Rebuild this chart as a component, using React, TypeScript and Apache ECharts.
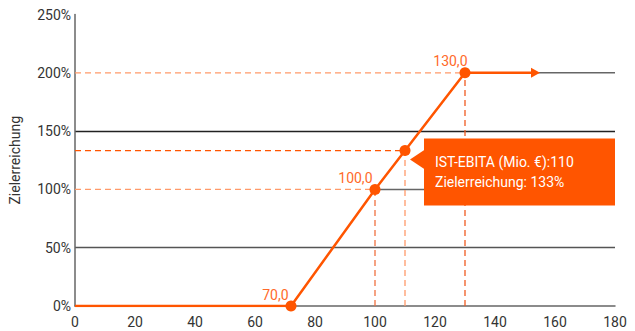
import React, { useEffect, useRef } from "react";
import * as echarts from "echarts";

const xTicks = [0, 20, 40, 60, 80, 100, 120, 140, 160, 180];
const yTicks = [0, 50, 100, 150, 200, 250];
// curve points (IST-EBITA in Mio. €, Zielerreichung in %)
const curveX = [0, 72, 100, 130, 153.5];
const curveY = [0, 0, 100, 200, 200];
// labelled corner points
const cornerX = [72, 100, 130];
const cornerY = [0, 100, 200];
const cornerLabels = ["70,0", "100,0", "130,0"];
// actual value
const actualX = 110;
const actualY = 133.3;

const ORANGE = "#FF5500";
const LIGHT = "#FF9A6A";
const GRAY = "#666666";

export default function App() {
  const ref = useRef<HTMLDivElement>(null);
  useEffect(() => {
    const chart = echarts.init(ref.current!, null, { renderer: "svg" });
    const font = "Roboto, 'Liberation Sans', sans-serif";

    const dashed = (pts: number[][], color: string) => ({
      type: "line",
      data: pts,
      symbol: "none",
      silent: true,
      z: 3,
      lineStyle: { color, width: 1.3, type: [6, 4] },
    });
    const solid = (pts: number[][], color: string) => ({
      type: "line",
      data: pts,
      symbol: "none",
      silent: true,
      z: 2,
      lineStyle: { color, width: 1.5 },
    });

    const mainData = curveX.map((x, i) => {
      const v = [x, curveY[i]];
      if (i === curveX.length - 1) {
        return { value: v, symbol: "triangle", symbolRotate: -90, symbolSize: [10, 9] };
      }
      const ci = cornerX.indexOf(x);
      if (ci >= 0 && cornerY[ci] === curveY[i]) {
        const isLast = ci === cornerX.length - 1;
        return {
          value: v,
          symbol: "circle",
          symbolSize: 11,
          label: {
            show: true,
            position: "left",
            distance: 0,
            offset: isLast ? [8, -12] : [3, -11],
            formatter: cornerLabels[ci],
            color: "#FF6A2A",
            fontSize: 14,
            fontFamily: font,
          },
        };
      }
      return { value: v, symbol: "none" };
    });

    const xMax = xTicks[xTicks.length - 1];
    const xMin = xTicks[0];

    chart.setOption({
      animation: false,
      grid: { left: 75, right: 20, top: 14.5, bottom: 25, containLabel: false },
      xAxis: {
        type: "value",
        min: xMin,
        max: xMax,
        interval: 20,
        axisLine: { show: true, lineStyle: { color: GRAY, width: 1.5 } },
        axisTick: { show: false },
        splitLine: { show: false },
        axisLabel: { color: "#333", fontSize: 14, fontFamily: font, margin: 9 },
      },
      yAxis: {
        type: "value",
        min: yTicks[0],
        max: yTicks[yTicks.length - 1],
        interval: 50,
        name: "Zielerreichung",
        nameLocation: "middle",
        nameGap: 53,
        nameTextStyle: { color: "#333", fontSize: 14, fontFamily: font },
        axisLine: { show: true, lineStyle: { color: GRAY, width: 1.5 } },
        axisTick: { show: false },
        splitLine: {
          show: true,
          lineStyle: {
            color: ["transparent", "#555", "transparent", "#222", "transparent", "transparent"],
            width: 1.3,
          },
        },
        axisLabel: {
          color: "#333",
          fontSize: 14,
          fontFamily: font,
          margin: 4,
          formatter: "{value}%",
        },
      },
      series: [
        solid([[cornerX[1], cornerY[1]], [xMax, cornerY[1]]], GRAY),
        solid([[curveX[4], curveY[4]], [xMax, curveY[4]]], GRAY),
        dashed([[xMin, cornerY[2]], [cornerX[2], cornerY[2]]], LIGHT),
        dashed([[xMin, cornerY[1]], [cornerX[1], cornerY[1]]], LIGHT),
        dashed([[xMin, actualY], [actualX, actualY]], ORANGE),
        dashed([[cornerX[1], 0], [cornerX[1], cornerY[1]]], "#F07040"),
        dashed([[actualX, 0], [actualX, actualY]], LIGHT),
        dashed([[cornerX[2], 0], [cornerX[2], cornerY[2]]], "#F05A20"),
        {
          type: "line",
          data: mainData,
          z: 5,
          silent: true,
          itemStyle: { color: ORANGE },
          lineStyle: { color: ORANGE, width: 2.5 },
        },
        {
          type: "scatter",
          z: 6,
          silent: true,
          data: [[actualX, actualY]],
          symbol: "circle",
          symbolSize: 11,
          itemStyle: { color: ORANGE, opacity: 1 },
        },
        {
          type: "scatter",
          z: 10,
          silent: true,
          data: [[actualX, actualY]],
          symbol: "triangle",
          symbolRotate: 90,
          symbolSize: [20, 15],
          symbolOffset: [12.5, 9],
          itemStyle: { color: ORANGE, opacity: 1 },
          label: {
            show: true,
            position: [14, -11],
            align: "left",
            verticalAlign: "top",
            formatter: (p: any) =>
              `IST-EBITA (Mio. €):${p.value[0]}\nZielerreichung: ${Math.round(p.value[1])}%`,
            backgroundColor: ORANGE,
            color: "#fff",
            fontSize: 14,
            fontFamily: font,
            lineHeight: 20,
            width: 169,
            height: 40,
            padding: [13, 11, 14, 11],
          },
        },
      ],
    });
    return () => chart.dispose();
  }, []);
  return (
    <div
      ref={ref}
      style={{ position: "fixed", left: 0, top: 0, width: 635, height: 331, background: "#fff" }}
    />
  );
}
